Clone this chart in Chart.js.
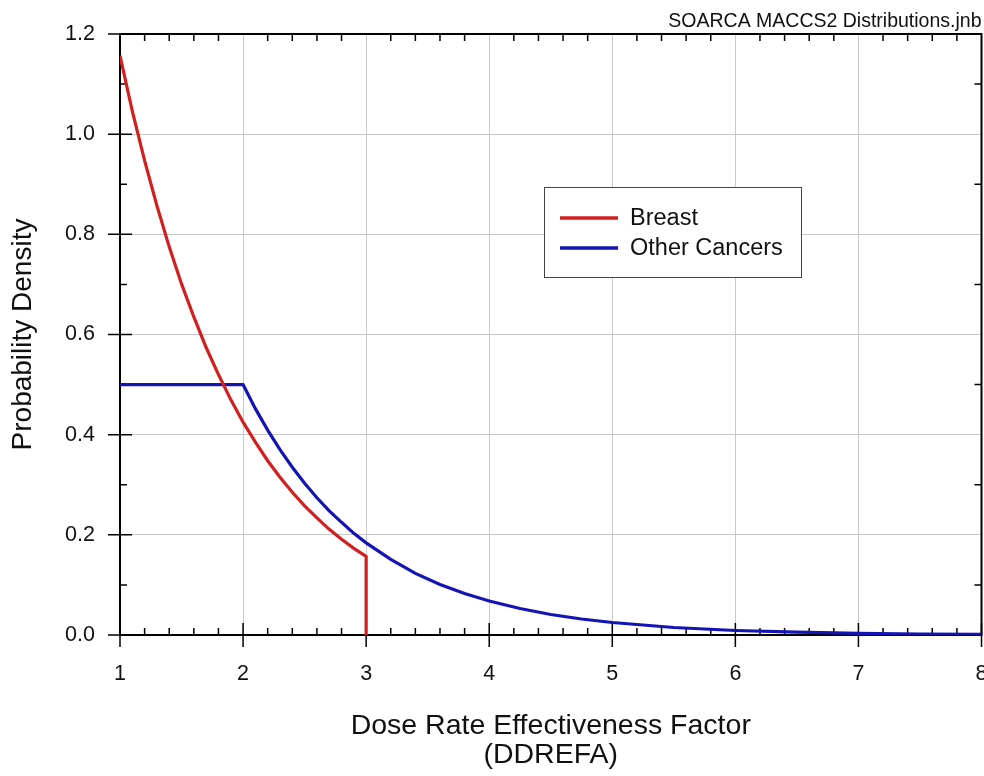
<!DOCTYPE html>
<html>
<head>
<meta charset="utf-8">
<script src="https://cdn.jsdelivr.net/npm/chart.js@4.4.1/dist/chart.umd.min.js"></script>
<style>
    html, body {margin: 0; padding: 0; background: white;}
    #wrap {width: 984px; height: 776px;}
</style>
</head>
<body>
<div id="wrap"><canvas id="ddrefaChart" width="984" height="776"></canvas></div>
<script>

/*
    DDREFA probability densities, Breast vs Other Cancers.
*/

// data

var breast_x = [1.0, 1.1, 1.2, 1.3, 1.4, 1.5, 1.6, 1.7, 1.8, 1.9, 2.0,
                2.1, 2.2, 2.3, 2.4, 2.5, 2.6, 2.7, 2.8, 2.9, 3.0, 3.0];
var breast_y = [1.157, 1.046, 0.947, 0.857, 0.775, 0.701, 0.635, 0.574, 0.520, 0.470, 0.425,
                0.385, 0.348, 0.315, 0.285, 0.258, 0.234, 0.211, 0.191, 0.173, 0.157, 0.0];

var other_x = [1.0, 2.0, 2.1, 2.2, 2.3, 2.4, 2.5, 2.6, 2.7, 2.8, 2.9, 3.0,
               3.2, 3.4, 3.6, 3.8, 4.0, 4.25, 4.5, 4.75, 5.0,
               5.5, 6.0, 6.5, 7.0, 7.5, 8.0];
var other_y = [0.5, 0.5, 0.452, 0.409, 0.370, 0.335, 0.303, 0.274, 0.248, 0.225, 0.203, 0.184,
               0.151, 0.123, 0.101, 0.083, 0.068, 0.053, 0.041, 0.032, 0.025,
               0.015, 0.009, 0.0056, 0.0034, 0.002, 0.0012];

var series_labels = ['Breast', 'Other Cancers'];
var series_colors = ['#d21f1f', '#1414b4'];

var x_ticks = [1, 2, 3, 4, 5, 6, 7, 8];
var y_ticks = [0.0, 0.2, 0.4, 0.6, 0.8, 1.0, 1.2];

var font_family = "'Liberation Sans', Arial, sans-serif";

Chart.defaults.font.family = font_family;
Chart.defaults.color = '#111';


function to_points(xs, ys) {
    var pts = [];
    for (var i = 0; i < xs.length; i++) {
        pts.push({x: xs[i], y: ys[i]});}
    return pts;
}


// frame with inner minor ticks and crossing major ticks

var frame_plugin = {
    id: 'frame',
    beforeDatasetsDraw: function(chart) {
        var ctx = chart.ctx;
        var a = chart.chartArea;
        var xs = chart.scales.x;
        var ys = chart.scales.y;

        ctx.save();
        ctx.strokeStyle = '#000';
        ctx.lineWidth = 1.5;
        ctx.beginPath();

        for (var i = 0; i < x_ticks.length; i++) {
            var px = xs.getPixelForValue(x_ticks[i]);
            ctx.moveTo(px, a.bottom + 12);
            ctx.lineTo(px, a.bottom - 12);}

        for (var k = 1; k < 35; k++) {
            if (k % 5 == 0) {
                continue;}
            var mx = xs.getPixelForValue(1 + k * 0.2);
            ctx.moveTo(mx, a.bottom);
            ctx.lineTo(mx, a.bottom - 7);
            ctx.moveTo(mx, a.top);
            ctx.lineTo(mx, a.top + 7);}

        for (var j = 0; j < y_ticks.length; j++) {
            var py = ys.getPixelForValue(y_ticks[j]);
            ctx.moveTo(a.left - 12, py);
            ctx.lineTo(a.left + 12, py);}

        for (var m = 1; m < 12; m += 2) {
            var my = ys.getPixelForValue(m * 0.1);
            ctx.moveTo(a.left, my);
            ctx.lineTo(a.left + 7, my);
            ctx.moveTo(a.right, my);
            ctx.lineTo(a.right - 7, my);}

        ctx.stroke();

        ctx.lineWidth = 2;
        ctx.strokeRect(a.left, a.top, a.right - a.left, a.bottom - a.top);
        ctx.restore();
    }
};


// boxed legend inside the plot

var legend_plugin = {
    id: 'boxLegend',
    afterDraw: function(chart) {
        var ctx = chart.ctx;
        var sets = chart.data.datasets;

        ctx.save();
        ctx.fillStyle = 'white';
        ctx.fillRect(544.5, 187.5, 257, 90);
        ctx.strokeStyle = '#444';
        ctx.lineWidth = 1;
        ctx.strokeRect(544.5, 187.5, 257, 90);

        ctx.font = '23.5px ' + font_family;
        ctx.textBaseline = 'middle';
        ctx.textAlign = 'left';

        for (var i = 0; i < sets.length; i++) {
            var ly = 218 + i * 30;
            ctx.strokeStyle = sets[i].borderColor;
            ctx.lineWidth = 3.5;
            ctx.beginPath();
            ctx.moveTo(560, ly);
            ctx.lineTo(618, ly);
            ctx.stroke();
            ctx.fillStyle = '#111';
            ctx.fillText(sets[i].label, 630, ly + 1);}

        ctx.restore();
    }
};


var ctx = document.getElementById('ddrefaChart').getContext('2d');

var chart_object = new Chart(ctx, {
    type: 'line',

    data: {
        datasets: [
            {
                label: series_labels[0],
                data: to_points(breast_x, breast_y),
                borderColor: series_colors[0],
                borderWidth: 3.2,
                pointRadius: 0,
                tension: 0,},
            {
                label: series_labels[1],
                data: to_points(other_x, other_y),
                borderColor: series_colors[1],
                borderWidth: 3.2,
                pointRadius: 0,
                tension: 0,},
        ],},

    options: {
        responsive: false,
        animation: false,
        layout: {padding: {top: 0, right: 2.5, bottom: 0, left: 0},},

        scales: {
            x: {
                type: 'linear',
                min: 1,
                max: 8,
                border: {display: false,},
                grid: {color: '#c8c8c8', lineWidth: 1, drawTicks: false,},
                ticks: {
                    stepSize: 1,
                    padding: 26,
                    color: '#111',
                    font: {size: 21.5,},},
                title: {
                    display: true,
                    text: ['Dose Rate Effectiveness Factor', '(DDREFA)'],
                    font: {size: 28.5, lineHeight: 1,},
                    padding: {top: 0, bottom: 7},},
                afterFit: function(scale) {
                    scale.height = 141;
                    scale.paddingLeft = 0;
                    scale.paddingRight = 0;},},
            y: {
                min: 0,
                max: 1.2,
                border: {display: false,},
                grid: {color: '#c8c8c8', lineWidth: 1, drawTicks: false,},
                ticks: {
                    stepSize: 0.2,
                    padding: 25,
                    color: '#111',
                    font: {size: 21.5,},
                    callback: function(v) {
                        return v.toFixed(1);},},
                title: {
                    display: true,
                    text: 'Probability Density',
                    font: {size: 28, lineHeight: 1,},
                    padding: {top: 9, bottom: 0},},
                afterFit: function(scale) {
                    scale.width = 120;
                    scale.paddingTop = 0;
                    scale.paddingBottom = 0;},},
        },

        plugins: {
            legend: {display: false,},
            tooltip: {enabled: false,},
            title: {
                display: true,
                text: 'SOARCA MACCS2 Distributions.jnb',
                align: 'end',
                color: '#111',
                font: {size: 19.5, weight: 'normal', lineHeight: 1,},
                padding: {top: 12, bottom: 2.5},},},
    },

    plugins: [frame_plugin, legend_plugin],
});

</script>
</body>
</html>
